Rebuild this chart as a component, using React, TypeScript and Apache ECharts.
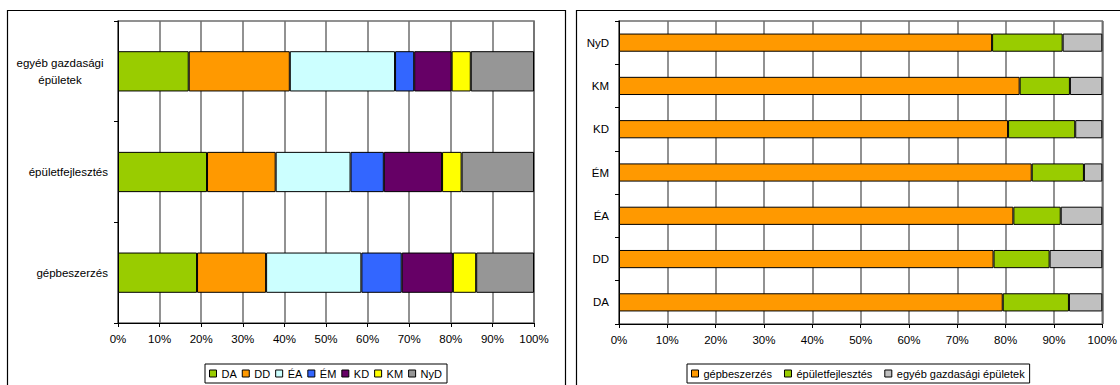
import React, { useEffect, useRef } from "react";
import * as echarts from "echarts";

// Left chart: share of each region within each investment type (%)
const investmentTypes = ["gépbeszerzés", "épületfejlesztés", "egyéb gazdasági épületek"];
const regions = ["DA", "DD", "ÉA", "ÉM", "KD", "KM", "NyD"];

const shareDA = [19.0, 21.4, 17.0];
const shareDD = [16.6, 16.5, 24.3];
const shareEA = [22.9, 18.0, 25.3];
const shareEM = [9.7, 8.0, 4.6];
const shareKD = [12.3, 14.0, 9.0];
const shareKM = [5.6, 4.7, 4.6];
const shareNyD = [13.9, 17.4, 15.2];

// Right chart: split of investment types within each region (%)
const gepbeszerzes = [79.4, 77.5, 81.6, 85.4, 80.5, 82.9, 77.2];
const epuletfejlesztes = [13.7, 11.6, 9.8, 10.8, 13.9, 10.4, 14.6];
const egyebEpuletek = [6.9, 10.9, 8.6, 3.8, 5.6, 6.7, 8.2];

const percentTicks = [0, 10, 20, 30, 40, 50, 60, 70, 80, 90, 100];

const regionColors = ["#99CC00", "#FF9900", "#CCFFFF", "#3366FF", "#660066", "#FFFF00", "#969696"];
const typeColors = ["#FF9900", "#99CC00", "#C0C0C0"];

const FONT = "'Liberation Sans', Arial, sans-serif";
const GRID_GREY = "#6e6e6e";
const AXIS_FONT_SIZE = 11.5;

export default function App() {
  const ref = useRef<HTMLDivElement>(null);

  useEffect(() => {
    if (!ref.current) return;
    const chart = echarts.init(ref.current, undefined, { renderer: "svg" });

    const regionData = [shareDA, shareDD, shareEA, shareEM, shareKD, shareKM, shareNyD];
    const typeData = [gepbeszerzes, epuletfejlesztes, egyebEpuletek];

    const valueAxis = (gridIndex: number) => ({
      type: "value" as const,
      gridIndex,
      min: percentTicks[0],
      max: percentTicks[percentTicks.length - 1],
      interval: 10,
      axisLine: { show: true, lineStyle: { color: "#000", width: 1 } },
      axisTick: { show: true, length: 4, lineStyle: { color: "#000" } },
      axisLabel: {
        formatter: "{value}%",
        color: "#000",
        fontSize: AXIS_FONT_SIZE,
        fontFamily: FONT,
        margin: 10,
      },
      splitLine: { show: true, lineStyle: { color: GRID_GREY, width: 1.5 } },
    });

    const categoryAxis = (gridIndex: number, data: string[], extra: any = {}) => ({
      type: "category" as const,
      gridIndex,
      data,
      axisLine: { show: true, lineStyle: { color: "#000", width: 1 } },
      axisTick: { show: true, length: 4, alignWithLabel: false, lineStyle: { color: "#000" } },
      splitLine: { show: false },
      axisLabel: {
        color: "#000",
        fontSize: AXIS_FONT_SIZE,
        fontFamily: FONT,
        margin: 10,
        ...extra,
      },
    });

    const barBorder = { borderColor: "#000", borderWidth: 1 };

    const leftSeries = regions.map((name, i) => ({
      name,
      type: "bar" as const,
      stack: "regions",
      xAxisIndex: 0,
      yAxisIndex: 0,
      barWidth: "40%",
      itemStyle: { color: regionColors[i], ...barBorder },
      data: regionData[i],
    }));

    const typeNames = investmentTypes;
    const rightSeries = typeNames.map((name, i) => ({
      name,
      type: "bar" as const,
      stack: "types",
      xAxisIndex: 1,
      yAxisIndex: 1,
      barWidth: "42%",
      itemStyle: { color: typeColors[i], ...barBorder },
      data: typeData[i],
    }));

    const legendCommon = {
      orient: "horizontal" as const,
      icon: "rect",
      itemWidth: 7,
      itemHeight: 7,
      borderColor: "#000",
      borderWidth: 1,
      padding: [4, 5, 4, 4],
      itemStyle: { borderColor: "#000", borderWidth: 1 },
      textStyle: { color: "#000", fontSize: 11, fontFamily: FONT },
    };

    chart.setOption({
      animation: false,
      backgroundColor: "#fff",
      textStyle: { fontFamily: FONT },
      grid: [
        { left: 118, top: 21, width: 416, height: 302, show: true, borderColor: GRID_GREY, borderWidth: 1.5, backgroundColor: "#fff" },
        { left: 619, top: 21, width: 484, height: 303, show: true, borderColor: GRID_GREY, borderWidth: 1.5, backgroundColor: "#fff" },
      ],
      xAxis: [valueAxis(0), valueAxis(1)],
      yAxis: [
        categoryAxis(0, investmentTypes, {
          formatter: (v: string) =>
            v === "egyéb gazdasági épületek"
              ? "{c|egyéb gazdasági}\n{c|épületek}"
              : v,
          rich: { c: { align: "center", width: 96, fontSize: AXIS_FONT_SIZE, fontFamily: FONT, color: "#000", lineHeight: 17 } },
        }),
        categoryAxis(1, regions),
      ],
      legend: [
        { ...legendCommon, left: 205, top: 364, itemGap: 5, data: regions },
        { ...legendCommon, left: 687, top: 364, itemGap: 12, data: typeNames },
      ],
      graphic: [
        {
          type: "rect",
          shape: { x: 7.5, y: 10.5, width: 558, height: 400 },
          style: { fill: "none", stroke: "#000", lineWidth: 1.2 },
          silent: true,
          z: -1,
        },
        {
          type: "rect",
          shape: { x: 576.5, y: 10.5, width: 600, height: 400 },
          style: { fill: "none", stroke: "#000", lineWidth: 1.2 },
          silent: true,
          z: -1,
        },
      ],
      series: [...leftSeries, ...rightSeries],
    });

    return () => chart.dispose();
  }, []);

  return (
    <div
      ref={ref}
      style={{ position: "fixed", left: 0, top: 0, width: 1120, height: 385, background: "#fff" }}
    />
  );
}
